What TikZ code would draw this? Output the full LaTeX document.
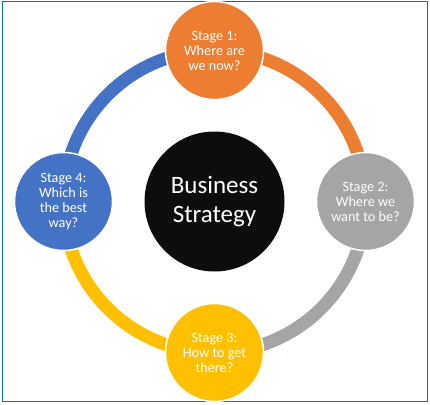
\documentclass[tikz,border=0pt]{standalone}
\usepackage{fontspec}
\setmainfont{Carlito}
\usetikzlibrary{backgrounds}
\definecolor{sorange}{HTML}{ED7D31}
\definecolor{sgrey}{HTML}{A5A5A5}
\definecolor{syellow}{HTML}{FFC000}
\definecolor{sblue}{HTML}{4472C4}
\definecolor{sblack}{HTML}{0D0D0D}
\definecolor{frameblue}{HTML}{0070C0}
\tikzset{
  stage/.style={circle, draw=white, line width=1.5pt, minimum size=98pt, inner sep=0pt,
    text=white, align=center, font=\fontsize{14.2}{15}\selectfont},
  core/.style={circle, fill=sblack, minimum size=140pt, inner sep=0pt,
    text=white, align=center, font=\fontsize{25}{28.5}\selectfont},
  ringarc/.style={line width=13pt},
  framebox/.style={draw=frameblue, line width=1.2pt}
}
\begin{document}
\begin{tikzpicture}[x=1pt,y=1pt]
\useasboundingbox (0,0) rectangle (430,-404);
\draw[framebox] (2.5,-1.8) rectangle (427.5,-401.8);
\coordinate (c) at (214.5,-201.5);
\node[core] (bs) at (c) {Business\\Strategy};
\node[stage, fill=sorange] (s1) at (214.5,-50.5) {Stage 1:\\Where are\\we now?};
\node[stage, fill=sgrey] (s2) at (365.5,-201.5) {Stage 2:\\Where we\\want to be?};
\node[stage, fill=syellow] (s3) at (214.5,-352.5) {Stage 3:\\How to get\\there?};
\node[stage, fill=sblue] (s4) at (63.5,-201.5) {Stage 4:\\Which is\\the best\\way?};
\begin{scope}[on background layer]
\draw[ringarc, sorange] (s1.center) arc[start angle=90, end angle=0, radius=151];
\draw[ringarc, sgrey] (s2.center) arc[start angle=0, end angle=-90, radius=151];
\draw[ringarc, syellow] (s3.center) arc[start angle=-90, end angle=-180, radius=151];
\draw[ringarc, sblue] (s4.center) arc[start angle=180, end angle=90, radius=151];
\end{scope}
\end{tikzpicture}
\end{document}
